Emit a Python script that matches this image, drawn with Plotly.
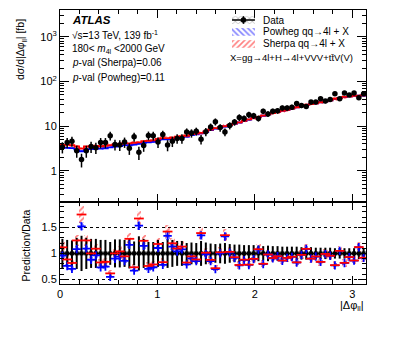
import numpy as np
import plotly.graph_objects as go

# |delta phi_ll| binning: 64 bins between 0 and pi
N_BINS = 64
BIN_W = np.pi / N_BINS

# measured cross-section per bin [fb]
data_vals = [3.4, 4.3, 4.6, 2.8, 1.8, 2.8, 3.5, 3.3, 4.3, 4.3,
             6.1, 3.9, 3.8, 4.4, 3.2, 5.8, 2.6, 3.7, 6.2, 6.1,
             4.4, 6.5, 3.8, 4.6, 5.3, 5.3, 7.4, 7.0, 7.7, 5.1,
             7.5, 9.6, 12.6, 9.3, 7.4, 10.3, 12.3, 15.7, 14.9, 18.0,
             17.1, 14.9, 21.5, 18.8, 21.5, 22.0, 25.5, 25.5, 26.5, 32.0,
             28.8, 27.4, 34.5, 34.5, 41.0, 36.4, 39.6, 53.0, 41.0, 55.0,
             50.0, 55.0, 43.0, 53.0]

# relative uncertainty of the data
data_rel_err = [0.28, 0.26, 0.25, 0.30, 0.34, 0.30, 0.28, 0.28, 0.26, 0.26,
                0.22, 0.27, 0.27, 0.26, 0.29, 0.23, 0.33, 0.28, 0.22, 0.22,
                0.26, 0.22, 0.28, 0.26, 0.24, 0.24, 0.20, 0.21, 0.20, 0.24,
                0.21, 0.19, 0.18, 0.19, 0.20, 0.18, 0.17, 0.17, 0.16, 0.16,
                0.16, 0.15, 0.14, 0.15, 0.14, 0.14, 0.13, 0.13, 0.13, 0.13,
                0.12, 0.12, 0.12, 0.11, 0.11, 0.11, 0.11, 0.10, 0.10, 0.10,
                0.10, 0.10, 0.11, 0.10]

# Sherpa qq->4l + X prediction [fb]
sherpa_vals = [3.8, 3.8, 3.75, 3.5, 3.15, 3.5, 3.5, 3.6, 3.55, 3.6,
               3.75, 3.9, 3.95, 4.15, 4.1, 4.25, 4.35, 4.6, 4.7, 4.8,
               5.2, 5.4, 5.4, 5.5, 5.8, 6.0, 6.1, 6.6, 6.8, 7.1,
               7.6, 8.4, 9.0, 9.5, 10.0, 10.6, 11.4, 12.2, 13.1, 14.1,
               15.3, 16.1, 17.2, 18.4, 19.6, 20.8, 22.0, 23.3, 24.8, 26.5,
               28.0, 29.8, 31.0, 32.5, 34.3, 36.0, 37.8, 41.0, 43.0, 45.0,
               46.5, 47.5, 48.2, 48.6]

# Powheg qq->4l + X prediction [fb]
powheg_vals = [3.25, 3.26, 3.23, 3.03, 2.74, 3.06, 3.07, 3.17, 3.14, 3.2,
               3.35, 3.5, 3.56, 3.76, 3.73, 3.88, 3.99, 4.24, 4.35, 4.47,
               4.86, 5.07, 5.08, 5.2, 5.5, 5.71, 5.83, 6.33, 6.55, 6.87,
               7.38, 8.18, 8.79, 9.3, 9.82, 10.44, 11.25, 12.07, 12.98, 14.0,
               15.2, 16.0, 17.1, 18.4, 19.5, 20.8, 21.9, 23.3, 24.7, 26.4,
               28.0, 29.7, 31.0, 32.4, 34.3, 35.9, 37.8, 40.8, 43.0, 44.8,
               46.4, 47.4, 48.1, 48.5]

SHERPA_UNC = 0.09
POWHEG_UNC = 0.05

FONT = "Liberation Sans, Arial, sans-serif"

edges = np.arange(N_BINS + 1) * BIN_W
centers = 0.5 * (edges[:-1] + edges[1:])
data = np.array(data_vals)
err = data * np.array(data_rel_err)
sherpa = np.array(sherpa_vals)
powheg = np.array(powheg_vals)

fig = go.Figure()


def hatch(shape, color, solidity=0.35):
    return dict(shape=shape, fgcolor=color, bgcolor="rgba(0,0,0,0)",
                size=4, solidity=solidity)


# --- upper panel: prediction bands and lines ---
for vals, unc, color, shape in [(powheg, POWHEG_UNC, "blue", "\\"),
                                (sherpa, SHERPA_UNC, "red", "/")]:
    fig.add_trace(go.Bar(
        x=centers, y=vals * 2 * unc, base=vals * (1 - unc), width=BIN_W,
        marker=dict(color="rgba(0,0,0,0)", line_width=0,
                    pattern=hatch(shape, color, 0.4)),
        xaxis="x", yaxis="y", showlegend=False, hoverinfo="skip"))
    fig.add_trace(go.Scatter(
        x=list(edges), y=list(vals) + [vals[-1]], mode="lines",
        line=dict(color=color, width=1.8, shape="hv"),
        xaxis="x", yaxis="y", showlegend=False))

fig.add_trace(go.Scatter(
    x=centers, y=data, mode="markers",
    marker=dict(color="black", size=5.5),
    error_y=dict(type="data", array=err, color="black", thickness=1.5, width=0),
    xaxis="x", yaxis="y", showlegend=False))

# --- ratio panel ---
ratio_err = np.array(data_rel_err)
for vals, unc, color, shape in [(sherpa, SHERPA_UNC, "red", "/"),
                                (powheg, POWHEG_UNC, "blue", "\\")]:
    r = vals / data
    fig.add_trace(go.Bar(
        x=centers, y=r * 2 * unc, base=r * (1 - unc), width=BIN_W * 0.9,
        marker=dict(color="rgba(0,0,0,0)", line_width=0,
                    pattern=hatch(shape, color, 0.45)),
        xaxis="x2", yaxis="y2", showlegend=False, hoverinfo="skip"))

fig.add_trace(go.Scatter(
    x=centers, y=np.ones(N_BINS), mode="lines+markers",
    line=dict(color="black", width=2),
    marker=dict(color="black", size=4, symbol="square"),
    error_y=dict(type="data", array=ratio_err, color="black", thickness=2, width=0),
    xaxis="x2", yaxis="y2", showlegend=False))

for vals, color, sym, size in [(powheg, "blue", "cross-thin", 6),
                               (sherpa, "red", "line-ew", 7)]:
    fig.add_trace(go.Scatter(
        x=centers, y=vals / data, mode="markers",
        marker=dict(symbol=sym, size=size, line=dict(color=color, width=1.8)),
        xaxis="x2", yaxis="y2", showlegend=False))

# --- hand drawn legend (overlay axis in plot-area coordinates) ---
leg_x0, leg_x1 = 0.562, 0.637
leg_rows = [("Data", 0.9635, "grey", "x"),
            ("Powheg qq\u21924l + X", 0.920, "blue", "\\"),
            ("Sherpa qq\u21924l + X", 0.876, "red", "/")]
half_h = 0.014
for label, yc, color, shape in leg_rows:
    fig.add_trace(go.Scatter(
        x=[leg_x0, leg_x1, leg_x1, leg_x0, leg_x0],
        y=[yc - half_h, yc - half_h, yc + half_h, yc + half_h, yc - half_h],
        mode="lines", fill="toself", line=dict(width=0, color="rgba(0,0,0,0)"),
        fillcolor="rgba(0,0,0,0)",
        fillpattern=dict(shape=shape, fgcolor=color, size=4, solidity=0.4),
        xaxis="x3", yaxis="y3", showlegend=False, hoverinfo="skip"))
    if label == "Data":
        fig.add_trace(go.Scatter(
            x=[leg_x0, leg_x1], y=[yc, yc], mode="lines",
            line=dict(color="black", width=1.5),
            xaxis="x3", yaxis="y3", showlegend=False, hoverinfo="skip"))
        fig.add_trace(go.Scatter(
            x=[(leg_x0 + leg_x1) / 2], y=[yc], mode="markers",
            marker=dict(color="black", size=5.5),
            error_y=dict(type="constant", value=half_h, color="black",
                         thickness=1.5, width=0),
            xaxis="x3", yaxis="y3", showlegend=False, hoverinfo="skip"))
    fig.add_annotation(x=0.657, y=yc, xref="x3", yref="y3", text=label,
                       showarrow=False, xanchor="left", yanchor="middle",
                       font=dict(size=10, family=FONT, color="black"))

fig.add_annotation(x=0.549, y=0.828, xref="x3", yref="y3",
                   text="X=gg\u21924l+H\u21924l+VVV+tt\u0304V(V)",
                   showarrow=False, xanchor="left", yanchor="middle",
                   font=dict(size=9.5, family=FONT, color="black"))

# --- ATLAS labels ---
info = [("<b><i>ATLAS</i></b>", 0.964, 11.5),
        ("\u221as=13 TeV, 139 fb<sup>-1</sup>", 0.909, 10),
        ("180< <i>m</i><sub>4l</sub> <2000 GeV", 0.858, 10),
        ("<i>p</i>-val (Sherpa)=0.06", 0.807, 10),
        ("<i>p</i>-val (Powheg)=0.11", 0.755, 10)]
for txt, yy, sz in info:
    fig.add_annotation(x=0.033, y=yy, xref="x3", yref="y3", text=txt,
                       showarrow=False, xanchor="left", yanchor="middle",
                       font=dict(size=sz, family=FONT, color="black"))

# axis titles
fig.add_annotation(x=-0.125, y=0.975, xref="paper", yref="paper",
                   text="d\u03c3/d|\u0394\u03c6<sub>ll</sub>| [fb]", textangle=-90,
                   showarrow=False, xanchor="center", yanchor="top",
                   font=dict(size=10.5, family=FONT, color="black"))
fig.add_annotation(x=-0.11, y=0.142, xref="paper", yref="paper",
                   text="Prediction/Data", textangle=-90,
                   showarrow=False, xanchor="center", yanchor="middle",
                   font=dict(size=10.5, family=FONT, color="black"))
fig.add_annotation(x=1.0, y=-0.08, xref="paper", yref="paper",
                   text="|\u0394\u03c6<sub>ll</sub>|",
                   showarrow=False, xanchor="right", yanchor="middle",
                   font=dict(size=11, family=FONT, color="black"))

ratio_frac = 0.299
axis_common = dict(showline=True, linecolor="black", linewidth=1, mirror="allticks",
                   ticks="inside", tickcolor="black", showgrid=False, zeroline=False,
                   automargin=False,
                   tickfont=dict(size=11, family=FONT, color="black"))

# the page body adds an 8px offset, so margins are shifted to compensate
fig.update_layout(
    width=399, height=337,
    margin=dict(l=52, r=41, t=2, b=61),
    paper_bgcolor="white", plot_bgcolor="rgba(0,0,0,0)",
    barmode="overlay", bargap=0,
    showlegend=False,
    xaxis=dict(axis_common, domain=[0, 1], anchor="y", range=[0, np.pi],
               dtick=1, ticklen=8, showticklabels=False,
               minor=dict(dtick=0.2, ticks="inside", ticklen=4, tickcolor="black")),
    yaxis=dict(axis_common, domain=[ratio_frac, 1], anchor="x", type="log",
               range=[-0.7, 3.6], tickvals=[1, 10, 100, 1000],
               ticktext=["1", "10", "10<sup>2</sup>", "10<sup>3</sup>"], ticklen=9,
               minor=dict(ticks="inside", ticklen=4, tickcolor="black", dtick="D1")),
    xaxis2=dict(axis_common, domain=[0, 1], anchor="y2", range=[0, np.pi],
                dtick=1, ticklen=8, matches="x",
                minor=dict(dtick=0.2, ticks="inside", ticklen=4, tickcolor="black")),
    yaxis2=dict(axis_common, domain=[0, ratio_frac], anchor="x2", range=[0.41, 1.99],
                tickvals=[0.5, 1, 1.5], ticktext=["0.5", "1", "1.5"], ticklen=8,
                showgrid=True, gridcolor="black", griddash="dot", gridwidth=1,
                minor=dict(dtick=0.1, ticks="inside", ticklen=4, tickcolor="black")),
    xaxis3=dict(domain=[0, 1], anchor="y3", range=[0, 1], visible=False),
    yaxis3=dict(domain=[0, 1], anchor="x3", range=[0, 1], visible=False),
)

fig.write_html("out.html")
